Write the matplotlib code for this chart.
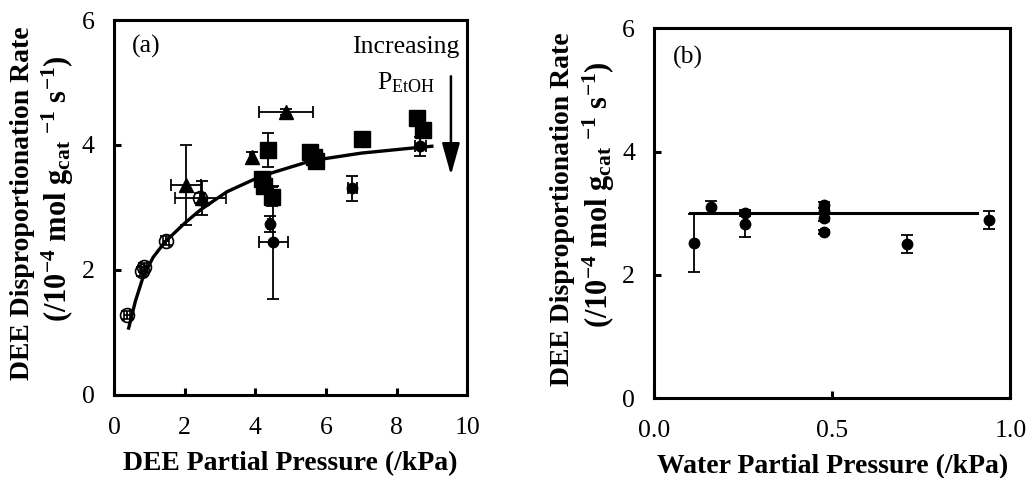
import matplotlib
matplotlib.use('Agg')
import matplotlib.pyplot as plt

plt.rcParams['font.family'] = 'Liberation Serif'
plt.rcParams['mathtext.fontset'] = 'custom'
plt.rcParams['mathtext.rm'] = 'Liberation Serif'
plt.rcParams['mathtext.bf'] = 'Liberation Serif:bold'
plt.rcParams['mathtext.it'] = 'Liberation Serif:italic'

# --- panel (a) : DEE partial pressure ---
# open circles
oc_x = [0.36, 0.80, 0.85, 1.46, 2.44]
oc_y = [1.28, 1.98, 2.04, 2.47, 3.15]
oc_xerr = [0.08, 0.08, 0.08, 0.08, 0.73]
oc_yerr = [0.07, 0.07, 0.07, 0.07, 0.08]
# triangles
tri_x = [2.03, 2.50, 3.90, 4.87]
tri_y = [3.36, 3.15, 3.81, 4.53]
tri_xerr = [0.42, 0.05, 0.05, 0.77]
tri_yerr = [0.64, 0.27, 0.08, 0.05]
# squares
sq_x = [4.35, 4.20, 4.25, 4.47, 5.55, 5.65, 5.72, 7.02, 8.57, 8.74]
sq_y = [3.92, 3.45, 3.35, 3.17, 3.88, 3.80, 3.74, 4.10, 4.43, 4.24]
sq_xerr = [0.05, 0.05, 0.05, 0.05, 0.05, 0.05, 0.05, 0.05, 0.05, 0.20]
sq_yerr = [0.28, 0.05, 0.05, 0.15, 0.05, 0.05, 0.05, 0.05, 0.05, 0.05]
# filled circles
fc_x = [4.40, 4.51, 6.75, 8.67]
fc_y = [2.74, 2.44, 3.31, 3.98]
fc_xerr = [0.05, 0.42, 0.12, 0.15]
fc_yerr = [0.13, 0.90, 0.20, 0.15]
# fitted curve
fit_x = [0.41, 0.60, 0.82, 1.10, 1.44, 2.00, 2.44, 3.19, 4.04, 4.50, 5.60, 7.00, 8.60, 9.00]
fit_y = [1.07, 1.50, 1.89, 2.20, 2.45, 2.75, 2.96, 3.25, 3.47, 3.56, 3.75, 3.87, 3.96, 3.98]

# --- panel (b) : water partial pressure ---
w_x = [0.112, 0.160, 0.253, 0.253, 0.475, 0.475, 0.475, 0.475, 0.710, 0.940]
w_y = [2.51, 3.10, 3.00, 2.82, 3.13, 3.03, 2.93, 2.69, 2.50, 2.89]
w_yerr = [0.47, 0.10, 0.05, 0.20, 0.05, 0.05, 0.05, 0.03, 0.14, 0.15]
w_line_x = [0.10, 0.905]
w_line_y = [3.0, 3.0]

ylab1 = "DEE Disproportionation Rate"
ylab2 = (r"(/10$^{\mathbf{-4}}$ mol g$_{\mathbf{cat}}$ $^{\mathbf{-1}}$"
         r" s$^{\mathbf{-1}}$)")

fig = plt.figure(figsize=(10.29, 4.78), dpi=100)
ax1 = fig.add_axes([0.111, 0.174, 0.343, 0.784])
ax2 = fig.add_axes([0.636, 0.167, 0.346, 0.774])

eb = dict(ecolor='black', elinewidth=1.3, capsize=4, capthick=1.3, linestyle='none')

ax1.plot(fit_x, fit_y, color='black', lw=2.4, zorder=3)
ax1.errorbar(oc_x, oc_y, xerr=oc_xerr, yerr=oc_yerr, marker='o', ms=10,
             mfc='none', mec='black', mew=1.2, **eb)
ax1.errorbar(tri_x, tri_y, xerr=tri_xerr, yerr=tri_yerr, marker='^', ms=10,
             mfc='black', mec='black', **eb)
ax1.errorbar(sq_x, sq_y, xerr=sq_xerr, yerr=sq_yerr, marker='s', ms=11,
             mfc='black', mec='black', **eb)
ax1.errorbar(fc_x, fc_y, xerr=fc_xerr, yerr=fc_yerr, marker='o', ms=7.5,
             mfc='black', mec='black', **eb)

ax1.annotate('', xy=(9.54, 3.52), xytext=(9.54, 5.1),
             arrowprops=dict(arrowstyle='-|>,head_length=1.5,head_width=0.42',
                             mutation_scale=13, lw=1.8, color='black',
                             shrinkA=0, shrinkB=0))
ax1.text(8.27, 5.57, 'Increasing', ha='center', va='center', fontsize=18.5)
ax1.text(8.27, 5.0, r'P$_{\mathrm{EtOH}}$', ha='center', va='center', fontsize=18.5)
ax1.text(0.5, 5.57, '(a)', ha='left', va='center', fontsize=18.5)

ax1.set_xlim(0, 10)
ax1.set_ylim(0, 6)
ax1.set_xticks([0, 2, 4, 6, 8, 10])
ax1.set_yticks([0, 2, 4, 6])
ax1.set_xlabel('DEE Partial Pressure (/kPa)', fontsize=20, fontweight='bold')

ax2.plot(w_line_x, w_line_y, color='black', lw=2.2, zorder=3)
ax2.errorbar(w_x, w_y, yerr=w_yerr, marker='o', ms=7.5, mfc='black',
             mec='black', **eb)
ax2.text(0.053, 5.53, '(b)', ha='left', va='center', fontsize=18.5)
ax2.set_xlim(0, 1)
ax2.set_ylim(0, 6)
ax2.set_xticks([0.0, 0.5, 1.0])
ax2.set_xticklabels(['0.0', '0.5', '1.0'])
ax2.set_yticks([0, 2, 4, 6])
ax2.set_xlabel('Water Partial Pressure (/kPa)', fontsize=20, fontweight='bold')

for ax in (ax1, ax2):
    for s in ax.spines.values():
        s.set_linewidth(2.2)
    ax.tick_params(direction='in', length=5, width=2.2, labelsize=18.5, pad=14)
    ax.tick_params(axis='x', pad=16)
    ax.xaxis.set_label_coords(0.5, -0.15)
    w = ax.get_position().width * 1029
    ax.text(-92 / w, 0.512, ylab1, rotation=90, ha='center', va='center',
            fontsize=20, fontweight='bold', transform=ax.transAxes)
    ax.text(-56 / w, 0.55, ylab2, rotation=90, ha='center', va='center',
            fontsize=22, fontweight='bold', transform=ax.transAxes)

fig.savefig('out.png', dpi=100)
